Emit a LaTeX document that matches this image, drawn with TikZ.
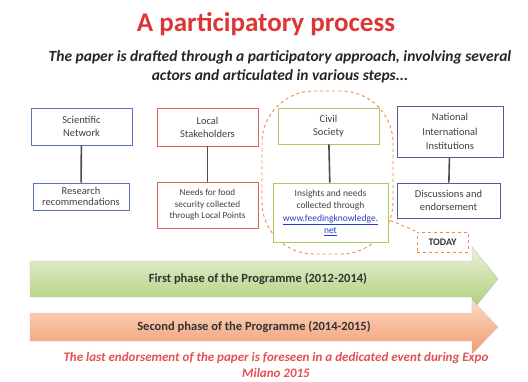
\documentclass[tikz,border=0pt]{standalone}
\usepackage{fontspec}
\setmainfont{Carlito}
\usepackage{tikz}
\usetikzlibrary{positioning,calc}
\definecolor{titlered}{RGB}{222,52,52}
\definecolor{netblue}{RGB}{92,112,196}
\definecolor{locred}{RGB}{222,96,86}
\definecolor{civgreen}{RGB}{176,200,96}
\definecolor{natviolet}{RGB}{96,86,156}
\definecolor{todayorange}{RGB}{236,140,70}
\definecolor{linkblue}{RGB}{40,60,200}

\begin{document}
\begin{tikzpicture}[x=1pt,y=-1pt,
 b/.style={draw,line width=0.9pt,align=center,font=\fontsize{10.5}{13}\selectfont,text=black!75,fill=white,inner sep=2pt},
 a/.style={line width=1.6pt,draw=black!70},
 o/.style={draw=todayorange,dashed,line width=0.9pt},
 ph/.style={font=\fontsize{12.5}{14}\bfseries,text=black!80}]
\useasboundingbox[fill=white] (0,0) rectangle (528,381);
% heading
\node[font=\fontsize{27}{30}\bfseries,text=titlered] (title) at (266,24) {A participatory process};
\node[font=\fontsize{15.5}{19}\bfseries\itshape,text=black!85,align=center] (sub) at (280,67)
 {The paper is drafted through a participatory approach, involving several\\actors and articulated in various steps...};
% where we are now (behind the boxes)
\node[o,rounded corners=52pt,minimum width=131pt,minimum height=163pt] (focus) at (327.5,172.5) {};
\coordinate (lnk) at ($(focus.south east)+(-3,-34)$);
% scientific network
\node[b,draw=netblue,minimum width=101pt,minimum height=37pt] (s1) at (81.5,126.5) {Scientific\\Network};
\node[b,draw=netblue,minimum width=96pt,minimum height=27pt,font=\fontsize{10.5}{11.5}\selectfont] (s2) at (81,196.5) {Research\\recommendations};
\draw[a] (s1)--(s2);
% local stakeholders
\node[b,draw=locred,minimum width=101pt,minimum height=38pt] (l1) at (207.5,127) {Local\\Stakeholders};
\node[b,draw=locred,minimum width=101pt,minimum height=46pt,font=\fontsize{9.2}{11.5}\selectfont] (l2) at (207.5,205) {Needs for food\\security collected\\through Local Points};
\draw[a] (l1)--(l2);
% civil society
\node[b,draw=civgreen,minimum width=101pt,minimum height=36pt] (c1) at (328.5,126) {Civil\\Society};
\node[b,draw=civgreen,minimum width=115pt,minimum height=59pt,font=\fontsize{9.5}{12.5}\selectfont] (c2) at (330.5,212.5)
 {Insights and needs\\collected through\\\textcolor{linkblue}{\underline{www.feedingknowledge.}}\\\textcolor{linkblue}{\underline{net}}};
\draw[a] (c1)--(c2);
% institutions
\node[b,draw=natviolet,minimum width=106pt,minimum height=51pt,font=\fontsize{10.5}{14.5}\selectfont] (n1) at (450,131.5) {National\\International\\Institutions};
\node[b,draw=natviolet,minimum width=103pt,minimum height=35pt,font=\fontsize{10.5}{12.5}\selectfont] (n2) at (448.5,200.5) {Discussions and\\endorsement};
\draw[a] (n1)--(n2);
% today marker
\node[o,fill=white,font=\fontsize{10}{11}\bfseries,text=black!80,minimum width=51pt,minimum height=20pt] (today) at (442.5,242) {TODAY};
\draw[o] (lnk)--(today.north west);
% phases
\shade[top color={rgb,255:red,234;green,243;blue,218},bottom color={rgb,255:red,172;green,204;blue,116},draw=black!25]
 (30,261)--(472,261)--(472,247)--(498,279)--(472,311)--(472,297)--(30,297)--cycle;
\node[ph] (ph1) at (258,279) {First phase of the Programme (2012-2014)};
\shade[top color={rgb,255:red,252;green,218;blue,196},bottom color={rgb,255:red,240;green,154;blue,112},draw=black!20]
 (30,313)--(472,313)--(472,300)--(498,327)--(472,354)--(472,341)--(30,341)--cycle;
\node[ph] (ph2) at (254,327) {Second phase of the Programme (2014-2015)};
% closing note
\node[font=\fontsize{13}{15.5}\bfseries\itshape,text=titlered!85,align=center] (note) at (276,365)
 {The last endorsement of the paper is foreseen in a dedicated event during Expo\\Milano 2015};
\end{tikzpicture}
\end{document}
